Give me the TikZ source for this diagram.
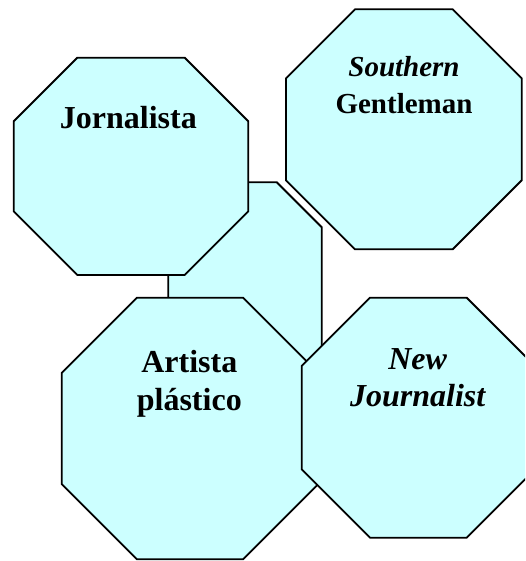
\documentclass[tikz,border=0pt]{standalone}
\usepackage{fontspec}
\setmainfont{Liberation Serif}
\definecolor{octfill}{HTML}{CCFFFF}
\tikzset{
  octshape/.style={draw=black, fill=octfill, line width=1.8pt, line join=miter},
  octlabel/.style={anchor=base, inner sep=0pt, font=\bfseries\fontsize{32}{37}\selectfont},
  smalllabel/.style={octlabel, font=\bfseries\fontsize{29}{36}\selectfont},
}
% \octa{x1}{y1}{x2}{y2}{chamfer}
\newcommand\octa[5]{%
  \draw[octshape] ({#1+#5},#2) -- ({#3-#5},#2) -- (#3,{#2+#5}) -- (#3,{#4-#5})
    -- ({#3-#5},#4) -- ({#1+#5},#4) -- (#1,{#4-#5}) -- (#1,{#2+#5}) -- cycle;}
\begin{document}
\begin{tikzpicture}[x=1pt,y=-1pt]
  \useasboundingbox (0,0) rectangle (525,561);
  \fill[white] (0,0) rectangle (525,561);
  \clip (0,0) rectangle (525,561);
  % back octagon
  \octa{168.3}{182.3}{321.7}{422}{44.9}
  % Jornalista
  \octa{13.7}{57.7}{248.3}{275}{63.6}
  % Southern Gentleman
  \octa{286}{9.3}{521.7}{249.3}{69}
  % Artista plastico
  \octa{61.7}{297.7}{318.3}{559.3}{75.2}
  % New Journalist
  \octa{301.7}{297.7}{535}{537.7}{68.3}

  \node[octlabel] (jor) at (128.3,128.3) {Jornalista};
  \node[smalllabel] (sou) at (404,76.7) {\itshape Southern};
  \node[smalllabel] (gen) at (404,113.3) {Gentleman};
  \node[octlabel] (art) at (189.3,372.7) {Artista};
  \node[octlabel] (pla) at (189.3,410) {plástico};
  \node[octlabel] (new) at (417.7,369.3) {\itshape New};
  \node[octlabel] (jou) at (417.7,406.7) {\itshape Journalist};
\end{tikzpicture}
\end{document}
